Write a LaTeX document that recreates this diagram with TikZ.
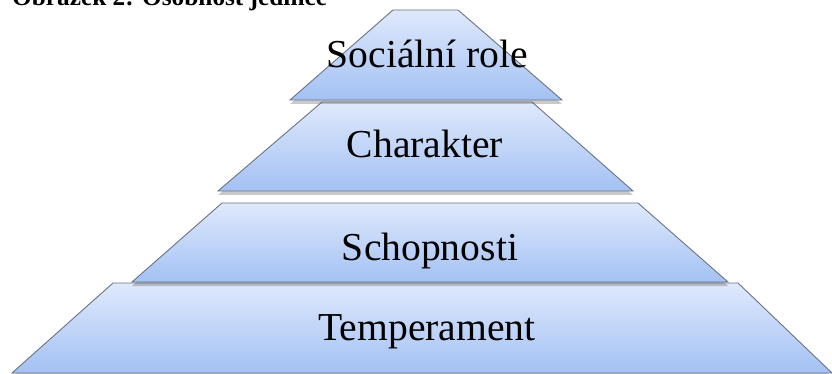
\documentclass[tikz,border=0pt]{standalone}
\usepackage{fontspec}
\setmainfont{Liberation Serif}
\usetikzlibrary{shadows}
\definecolor{ptop}{RGB}{223,233,252}
\definecolor{pbot}{RGB}{163,193,243}
\definecolor{pedge}{RGB}{105,115,130}
\tikzset{
  layer/.style={draw=pedge, line width=0.9pt, top color=ptop, bottom color=pbot,
    drop shadow={shadow xshift=0pt, shadow yshift=-4pt, opacity=0.3, fill=black!70}},
  lbl/.style={anchor=base, inner sep=0pt, font=\fontsize{39.6}{44}\selectfont},
}
\begin{document}
\begin{tikzpicture}[x=1pt,y=-1pt]
\useasboundingbox (0,0) rectangle (832,374);
\clip (0,0) rectangle (832,374);
\node[anchor=base west, inner sep=0pt, font=\bfseries\fontsize{25.3}{28}\selectfont] (title) at (12,6) {Obrázek 2: Osobnost jedince};
% Temperament
\path[layer] (12,373) -- (113,283) -- (738,283) -- (832,373) -- cycle;
% Schopnosti
\path[layer] (132,282) -- (222,203) -- (638,203) -- (728,282) -- cycle;
% Charakter
\path[layer] (218,191) -- (322,102) -- (532,102) -- (633,191) -- cycle;
% Socialni role
\path[layer] (290,100) -- (393,10) -- (458,10) -- (562,100) -- cycle;
\node[lbl] (temp) at (427,340) {Temperament};
\node[lbl] (schop) at (430,260) {Schopnosti};
\node[lbl] (char) at (425,158) {Charakter};
\node[lbl] (soc) at (427.5,68) {Sociální role};
\end{tikzpicture}
\end{document}
